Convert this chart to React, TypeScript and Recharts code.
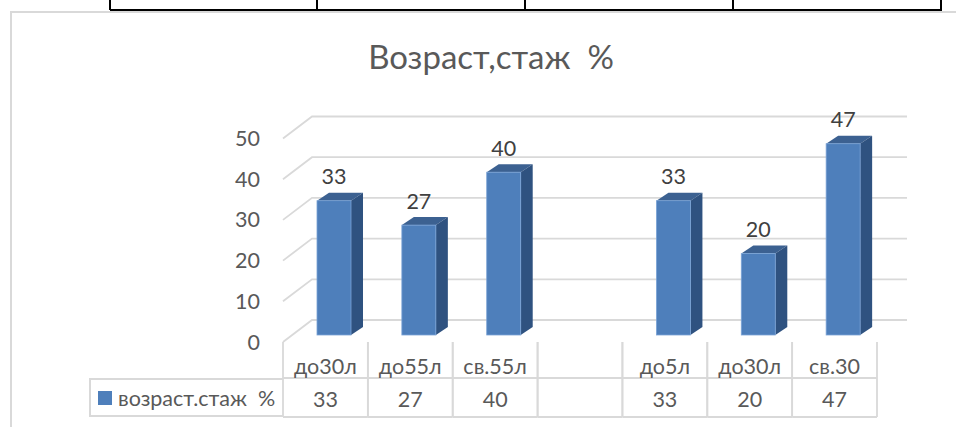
import React from 'react';
import { BarChart, Bar, XAxis, YAxis, CartesianGrid, LabelList, Legend } from 'recharts';

const categories = ['до30л', 'до55л', 'св.55л', '', 'до5л', 'до30л', 'св.30'];
const values: (number | null)[] = [33, 27, 40, null, 33, 20, 47];
const yTicks = [0, 10, 20, 30, 40, 50];
const seriesName = 'возраст.стаж  %';
const titleText = 'Возраст,стаж  %';

const rows = categories.map((c, i) => ({ cat: c, v: values[i] }));

const FONT = 'Lato, "Noto Sans", sans-serif';
const GRID = '#d9d9d9';
const TXT = '#595959';
const FS = 21.5;
const BAR_SHIFT = 9;
const DX = 12;
const DY = 8;

const Bar3D = (p: any) => {
  const { x, y, width, height } = p;
  if (!height || height <= 0) return <g />;
  const l = x + BAR_SHIFT;
  const r = l + width;
  const b = y + height;
  return (
    <g>
      <polygon points={`${l},${y} ${r},${y} ${r + DX},${y - DY} ${l + DX},${y - DY}`} fill="#3c6191" />
      <polygon points={`${r},${y} ${r + DX},${y - DY} ${r + DX},${b - DY} ${r},${b}`} fill="#2f5280" />
      <rect x={l} y={y} width={width} height={height} fill="#4e7fbb" stroke="#7ba3d6" strokeWidth={0.8} />
    </g>
  );
};

const GridLine = (p: any) => {
  const { x1, x2, y1 } = p;
  return (
    <polyline
      key={p.key}
      points={`${x1},${y1 + 7} ${x1 + 29},${y1 - 15} ${x2 + 30},${y1 - 15}`}
      fill="none"
      stroke={GRID}
      strokeWidth={1.8}
    />
  );
};

const YTick = (p: any) => (
  <text x={p.x - 15} y={p.y + 7} dy={7.5} textAnchor="end" fontFamily={FONT} fontSize={FS} fill={TXT}>
    {p.payload.value}
  </text>
);

const XTick = (p: any) => {
  const { x, index, payload } = p;
  const half = 42.43;
  const axisY = 335;
  const v = values[index];
  return (
    <g>
      <line x1={x - half} x2={x - half} y1={axisY + 7} y2={axisY + 82} stroke={GRID} strokeWidth={1.8} />
      <line x1={x + half} x2={x + half} y1={axisY + 7} y2={axisY + 82} stroke={GRID} strokeWidth={1.8} />
      <line x1={x - half} x2={x + half} y1={axisY + 43} y2={axisY + 43} stroke={GRID} strokeWidth={1.8} />
      <line x1={x - half} x2={x + half} y1={axisY + 82} y2={axisY + 82} stroke={GRID} strokeWidth={1.8} />
      <text x={x} y={axisY + 39} textAnchor="middle" fontFamily={FONT} fontSize={FS} fill={TXT}>
        {payload.value}
      </text>
      <text x={x} y={axisY + 71.5} textAnchor="middle" fontFamily={FONT} fontSize={FS} fill={TXT}>
        {v == null ? '' : v}
      </text>
    </g>
  );
};

const BarLabel = (p: any) => {
  const { x, y, width, value } = p;
  if (value == null) return <g />;
  return (
    <text x={x + BAR_SHIFT + width / 2} y={y - 16.5} textAnchor="middle" fontFamily={FONT} fontSize={FS} fill="#404040">
      {value}
    </text>
  );
};

const LegendCell = (p: any) => {
  const item = (p.payload || [])[0];
  return (
    <div
      style={{
        width: 194,
        height: 39,
        boxSizing: 'border-box',
        border: `2px solid ${GRID}`,
        borderRight: 'none',
        display: 'flex',
        alignItems: 'center',
        fontFamily: FONT,
        fontSize: FS,
        color: TXT,
        whiteSpace: 'pre',
      }}
    >
      <span style={{ width: 14, height: 14, background: '#4e7fbb', marginLeft: 7, marginRight: 6, display: 'inline-block' }} />
      {item ? item.value : ''}
    </div>
  );
};

const box = (s: React.CSSProperties): React.CSSProperties => ({ position: 'absolute', ...s });

export default function App() {
  return (
    <div style={box({ left: 0, top: 0, width: 956, height: 427, background: '#fff', overflow: 'hidden' })}>
      <div style={box({ left: 110, top: 9, width: 832, height: 2, background: '#000' })} />
      {[110, 317, 525, 733, 941].map((x) => (
        <div key={x} style={box({ left: x - 1, top: 0, width: 2, height: 10, background: '#000' })} />
      ))}
      <div style={box({ left: 10, top: 11, width: 946, height: 2, background: GRID })} />
      <div style={box({ left: 10, top: 11, width: 2, height: 416, background: GRID })} />
      <div
        style={box({ left: 340, top: 36, width: 302, textAlign: 'center', fontFamily: FONT, fontSize: 33, color: TXT, whiteSpace: 'pre', lineHeight: '40px' })}
      >
        {titleText}
      </div>
      <div style={box({ left: 0, top: 0 })}>
        <BarChart
          width={956}
          height={427}
          data={rows}
          margin={{ top: 131.5, left: 243, right: 79, bottom: 0 }}
        >
          <CartesianGrid horizontal={GridLine as any} vertical={false} />
          <XAxis
            dataKey="cat"
            height={92}
            interval={0}
            axisLine={false}
            tickLine={false}
            tick={XTick as any}
          />
          <YAxis
            width={40}
            domain={[0, 50]}
            ticks={yTicks}
            axisLine={false}
            tickLine={false}
            tick={YTick as any}
          />
          <Legend
            layout="horizontal"
            verticalAlign="middle"
            align="center"
            content={LegendCell as any}
            wrapperStyle={{ position: 'absolute', left: 89, top: 378, width: 194, height: 39, bottom: 'auto', right: 'auto' }}
          />
          <Bar dataKey="v" name={seriesName} barSize={34} isAnimationActive={false} shape={Bar3D as any}>
            <LabelList dataKey="v" content={BarLabel as any} />
          </Bar>
        </BarChart>
      </div>
    </div>
  );
}
